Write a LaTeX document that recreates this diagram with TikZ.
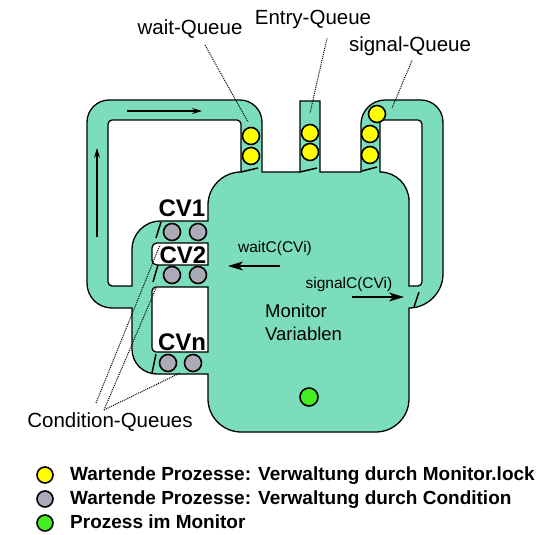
\documentclass[tikz,border=0pt]{standalone}
\usepackage{fontspec}
\setmainfont{Liberation Sans}
\usetikzlibrary{arrows.meta}
\definecolor{monigreen}{RGB}{124,221,188}
\definecolor{lockyellow}{RGB}{255,255,0}
\definecolor{condgray}{RGB}{170,170,184}
\definecolor{rungreen}{RGB}{68,238,34}

\begin{document}
\begin{tikzpicture}[x=1pt, y=-1pt,
    wall/.style={draw=black, line width=1.3pt, fill=monigreen, even odd rule},
    gate/.style={line width=1.5pt},
    lockproc/.style={draw, line width=1.6pt, fill=lockyellow},
    condproc/.style={draw, line width=1.6pt, fill=condgray},
    runproc/.style={draw, line width=1.6pt, fill=rungreen},
    lab/.style={inner sep=0pt, anchor=base, font=\fontsize{20.5}{24}\selectfont},
    monlab/.style={inner sep=0pt, anchor=base west, font=\fontsize{18.5}{22}\selectfont},
    cvlab/.style={inner sep=0pt, anchor=base, font=\fontsize{24}{28}\selectfont\bfseries},
    call/.style={inner sep=0pt, anchor=base, font=\fontsize{15.5}{18}\selectfont},
    leg/.style={inner sep=0pt, anchor=base west, font=\fontsize{19}{22}\selectfont\bfseries},
    pointer/.style={densely dotted, line width=1pt},
    flow/.style={line width=1.1pt, -{Stealth[length=10pt, width=6pt]}},
    bigflow/.style={line width=1.3pt, -{Stealth[length=15pt, width=9pt, inset=4pt]}}]
    \useasboundingbox (0,0) rectangle (542,535);

    % Monitor with loops, tubes and condition region
    \path[wall]
        (87,122) .. controls (87,110) and (97,100) .. (109,100) -- (240,100)
        .. controls (252,100) and (262,110) .. (262,122) -- (262,172) -- (300,172)
        -- (300,101) -- (320,101) -- (320,172) -- (361,172) -- (361,124)
        .. controls (361,111) and (372,100) .. (385,100) -- (421,100)
        .. controls (433,100) and (443,110) .. (443,122) -- (443,274)
        .. controls (443,293) and (427,308) .. (409,308) -- (409,399)
        .. controls (409,417) and (394,432) .. (376,432) -- (241,432)
        .. controls (223,432) and (208,417) .. (208,399) -- (208,374) -- (157,374)
        .. controls (143,374) and (132,363) .. (132,349) -- (132,308) -- (112,308)
        .. controls (98,308) and (87,297) .. (87,283) -- cycle
        % left loop hole
        (108,124) .. controls (108,122) and (110,120) .. (112,120) -- (237,120)
        .. controls (239,120) and (241,122) .. (241,124) -- (241,172)
        .. controls (223,172) and (208,187) .. (208,205) -- (208,221) -- (160,221)
        .. controls (145,221) and (132,234) .. (132,249) -- (132,286) -- (112,286)
        .. controls (110,286) and (108,284) .. (108,282) -- cycle
        % right loop hole
        (380,172) -- (380,120) -- (418,120) .. controls (420,120) and (422,122) .. (422,124)
        -- (422,282) .. controls (422,284) and (420,286) .. (418,286) -- (409,286) -- (409,201)
        .. controls (409,185) and (396,172) .. (380,172) -- cycle
        % CV2 box
        (208,243) -- (157,243) .. controls (154,243) and (152,245) .. (152,248) -- (152,260)
        .. controls (152,263) and (154,265) .. (157,265) -- (208,265) -- cycle
        % CVn box
        (208,287) -- (156,287) .. controls (154,287) and (152,289) .. (152,291) -- (152,348)
        .. controls (152,350) and (154,352) .. (156,352) -- (208,352) -- cycle;

    % Gates
    \draw[gate] (241,172) -- (258,168);
    \draw[gate] (300,172) -- (317,168);
    \draw[gate] (362,171) -- (377,167);
    \draw[gate] (414,307) -- (419,292);
    \draw[gate] (156,238) -- (161,222);
    \draw[gate] (153,282) -- (158,265);
    \draw[gate] (152,373) -- (156,354);

    % Waiting processes (Monitor.lock)
    \draw[lockproc] (251,136) circle[radius=8.5pt];
    \draw[lockproc] (251,156) circle[radius=8.5pt];
    \draw[lockproc] (310,133) circle[radius=8.5pt];
    \draw[lockproc] (310,152) circle[radius=8.5pt];
    \draw[lockproc] (377,114) circle[radius=8.5pt];
    \draw[lockproc] (370,134) circle[radius=8.5pt];
    \draw[lockproc] (370,155) circle[radius=8.5pt];

    % Waiting processes (Condition)
    \draw[condproc] (172,232) circle[radius=8.5pt];
    \draw[condproc] (198,232) circle[radius=8.5pt];
    \draw[condproc] (172,275) circle[radius=8.5pt];
    \draw[condproc] (198,275) circle[radius=8.5pt];
    \draw[condproc] (168,363) circle[radius=8.5pt];
    \draw[condproc] (193,363) circle[radius=8.5pt];

    % Process in the monitor
    \draw[runproc] (309,397) circle[radius=9pt];

    % Flow
    \draw[flow] (127,111) -- (202,111);
    \draw[flow] (97,237) -- (97,148);
    \draw[bigflow] (280,266) -- (228,266);
    \draw[bigflow] (352,297) -- (404,297);

    % Labels
    \node[cvlab] (cv1) at (182,216) {CV1};
    \node[cvlab] (cv2) at (183,263) {CV2};
    \node[cvlab] (cvn) at (182,350) {CVn};
    \node[call] (waitc) at (275,253) {waitC(CVi)};
    \node[call] (signalc) at (349,288) {signalC(CVi)};
    \node[monlab] (monitor) at (265,317) {Monitor};
    \node[monlab] (variablen) at (265,341) {Variablen};

    \node[lab] (waitq) at (190,35) {wait-Queue};
    \node[lab] (entryq) at (313,25) {Entry-Queue};
    \node[lab] (signalq) at (410,52) {signal-Queue};
    \node[lab] (condq) at (110,427) {Condition-Queues};

    % Pointers
    \coordinate (waitq-end) at (248,122);
    \coordinate (entryq-end) at (310,113);
    \coordinate (signalq-end) at (392,108);
    \coordinate (cv1-end) at (160,245);
    \coordinate (cv2-end) at (156,288);
    \coordinate (cvn-end) at (180,373);
    \draw[pointer] ([xshift=15pt, yshift=-6pt]waitq.south) -- (waitq-end);
    \draw[pointer] ([xshift=14pt, yshift=-9pt]entryq.south) -- (entryq-end);
    \draw[pointer] ([xshift=2pt, yshift=-4pt]signalq.south) -- (signalq-end);
    \draw[pointer] ([xshift=-14pt, yshift=9pt]condq.north) -- (cv1-end);
    \draw[pointer] ([xshift=-6pt, yshift=2pt]condq.north) -- (cv2-end);
    \draw[pointer] ([xshift=-6pt, yshift=2pt]condq.north) -- (cvn-end);

    % Legend
    \draw[lockproc] (45,475) circle[radius=8pt];
    \draw[condproc] (45,499) circle[radius=8pt];
    \draw[runproc] (45,523) circle[radius=8pt];
    \node[leg] (leg-lock) at (70,480) {Wartende Prozesse: Verwaltung durch Monitor.lock};
    \node[leg] (leg-cond) at (70,504) {Wartende Prozesse: Verwaltung durch Condition};
    \node[leg] (leg-run) at (70,528) {Prozess im Monitor};
\end{tikzpicture}
\end{document}
